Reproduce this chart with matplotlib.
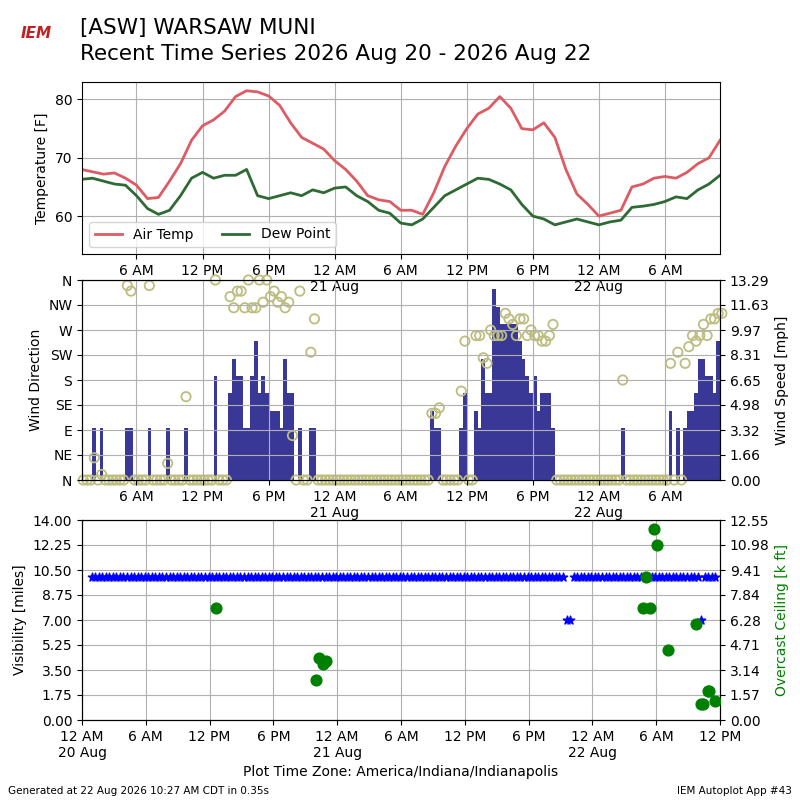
import numpy as np
import matplotlib
matplotlib.use("Agg")
import matplotlib.pyplot as plt

# hourly temperatures, hours since 12 AM 20 Aug (h1 .. h59)
temp_hours = list(range(1, 60))
air_temp = [68.0, 67.6, 67.2, 67.4, 66.5, 65.3, 63.0, 63.2, 66.0, 69.0,
            73.0, 75.5, 76.5, 78.0, 80.5, 81.5, 81.3, 80.6, 79.0, 76.0,
            73.5, 72.5, 71.5, 69.5, 68.0, 66.0, 63.5, 62.8, 62.5, 61.0,
            61.0, 60.3, 64.0, 68.5, 72.0, 75.0, 77.5, 78.5, 80.5, 78.5,
            75.0, 74.8, 76.0, 73.5, 68.0, 63.8, 62.0, 60.0, 60.5, 61.0,
            65.0, 65.5, 66.5, 66.8, 66.5, 67.5, 69.0, 70.0, 73.0]
dew_point = [66.3, 66.5, 66.0, 65.5, 65.3, 63.5, 61.3, 60.3, 61.0, 63.5,
             66.5, 67.5, 66.5, 67.0, 67.0, 68.0, 63.5, 63.0, 63.5, 64.0,
             63.5, 64.5, 64.0, 64.8, 65.0, 63.5, 62.5, 61.0, 60.5, 58.8,
             58.5, 59.5, 61.5, 63.5, 64.5, 65.5, 66.5, 66.3, 65.5, 64.5,
             62.0, 60.0, 59.5, 58.5, 59.0, 59.5, 59.0, 58.5, 59.0, 59.3,
             61.5, 61.7, 62.0, 62.5, 63.3, 63.0, 64.5, 65.5, 67.0]

# wind obs every 20 minutes from h1; index -> knots / direction (others calm)
n_wind = 175
wind_kt = {3: 3, 5: 3, 12: 3, 13: 3, 18: 3, 23: 3, 28: 3, 36: 6, 40: 5, 41: 7,
           42: 6, 43: 6, 44: 3, 45: 3, 46: 6, 47: 8, 48: 5, 49: 6, 50: 5,
           51: 4, 52: 4, 53: 4, 54: 3, 55: 7, 56: 5, 57: 5, 59: 3, 62: 3, 63: 3,
           95: 4, 96: 3, 97: 3, 103: 3, 104: 5, 107: 4, 108: 3, 109: 7, 110: 5,
           111: 5, 112: 11, 113: 10, 114: 9, 115: 9, 116: 9, 117: 9, 118: 9,
           119: 8, 120: 7, 121: 6, 122: 5, 123: 6, 124: 4, 125: 5, 126: 5,
           127: 5, 128: 3, 147: 3, 160: 4, 162: 3, 164: 3, 165: 4, 166: 4,
           167: 5, 168: 7, 169: 7, 170: 6, 171: 6, 172: 5, 173: 8, 174: 7}
wind_dir = {3: 40, 5: 10, 12: 350, 13: 340, 18: 350, 23: 30, 28: 150, 36: 360,
            40: 330, 41: 310, 42: 340, 43: 340, 44: 310, 45: 360, 46: 310,
            47: 310, 48: 360, 49: 320, 50: 360, 51: 330, 52: 340, 53: 320,
            54: 330, 55: 310, 56: 320, 57: 80, 59: 340, 62: 230, 63: 290,
            95: 120, 96: 120, 97: 130, 103: 160, 104: 250, 107: 260, 108: 260,
            109: 220, 110: 210, 111: 270, 112: 260, 113: 260, 114: 260,
            115: 300, 116: 290, 117: 280, 118: 260, 119: 290, 120: 290,
            121: 260, 122: 270, 123: 260, 124: 260, 125: 250, 126: 250,
            127: 260, 128: 280, 147: 180, 160: 210, 162: 230, 164: 210,
            165: 240, 166: 260, 167: 250, 168: 260, 169: 280, 170: 260,
            171: 290, 172: 290, 173: 300, 174: 300}

# visibility obs every 20 minutes from h0.9, dips to 7 miles
vis_low = {134: 7.0, 135: 7.0, 172: 7.0}
n_vis = 177
# overcast ceiling [k ft]
ceil_hours = [12.6, 22.0, 22.3, 22.7, 22.95, 52.8, 53.0, 53.4, 53.8, 54.1,
              55.1, 57.7, 58.2, 58.4, 58.9, 59.0, 59.5]
ceil_kft = [7.0, 2.49, 3.87, 3.5, 3.68, 7.0, 8.95, 7.0, 11.96, 10.96,
            4.37, 6.0, 0.98, 0.98, 1.8, 1.8, 1.17]


def hour_labels(hours):
    labs = []
    for h in hours:
        hh = h % 24
        if hh == 0:
            labs.append("12 AM\n%d Aug" % (20 + h // 24))
        elif hh == 12:
            labs.append("12 PM")
        elif hh < 12:
            labs.append("%d AM" % hh)
        else:
            labs.append("%d PM" % (hh - 12))
    return labs


def fmt2(vals):
    return ["%.2f" % (np.floor(v * 100 + 0.5) / 100) for v in vals]


fig = plt.figure(figsize=(8, 8), dpi=100)
fig.text(0.1, 0.965, "[ASW] WARSAW MUNI", fontsize=15.5, va="center")
fig.text(0.1, 0.932, "Recent Time Series 2026 Aug 20 - 2026 Aug 22",
         fontsize=15.5, va="center")
fig.text(0.045, 0.958, "IEM", fontsize=11, color="#c02020", ha="center",
         va="center", style="italic", fontweight="bold")
fig.text(0.01, 0.007, "Generated at 22 Aug 2026 10:27 AM CDT in 0.35s", fontsize=7.5)
fig.text(0.99, 0.007, "IEM Autoplot App #43", fontsize=7.5, ha="right")

# temperature
ax1 = fig.add_axes([0.1025, 0.6825, 0.7975, 0.215])
ax1.plot(temp_hours, air_temp, color="#dd5c64", lw=2, label="Air Temp")
ax1.plot(temp_hours, dew_point, color="#2e6a34", lw=2, label="Dew Point")
ax1.set_xlim(1.05, 59.0)
ax1.set_ylim(53.5, 83)
ax1.set_yticks([60, 70, 80])
ticks = list(range(6, 59, 6))
ax1.set_xticks(ticks)
ax1.set_xticklabels(hour_labels(ticks))
ax1.set_ylabel("Temperature [F]")
ax1.grid(True)
ax1.legend(loc="lower left", ncol=2)

# wind
t_wind = np.array([1.0 + i / 3.0 for i in range(n_wind)])
kt = np.array([wind_kt.get(i, 0) for i in range(n_wind)], dtype=float)
dr = np.array([wind_dir.get(i, 0) for i in range(n_wind)], dtype=float)
mph = kt * 1.1508
ax2 = fig.add_axes([0.1025, 0.4, 0.7975, 0.25])
ax2b = ax2.twinx()
ax2b.bar(t_wind, mph, width=1 / 3.0, align="edge", color="#3a3897")
ax2b.set_ylim(0, 13.29)
ax2b.set_yticks(np.linspace(0, 13.29, 9))
ax2b.set_yticklabels(fmt2(np.linspace(0, 13.29, 9)))
ax2b.set_ylabel("Wind Speed [mph]")
ax2.set_zorder(ax2b.get_zorder() + 1)
ax2.patch.set_visible(False)
ax2.scatter(t_wind + 1 / 6.0, dr, s=45, facecolors="none", edgecolors="#bdbd80",
            linewidths=1.3, clip_on=False)
ax2.set_ylim(0, 360)
ax2.set_yticks(range(0, 361, 45))
ax2.set_yticklabels(["N", "NE", "E", "SE", "S", "SW", "W", "NW", "N"])
ax2.set_ylabel("Wind Direction")
ax2.set_xlim(1.05, 59.0)
ax2.set_xticks(ticks)
ax2.set_xticklabels(hour_labels(ticks))
ax2.grid(True)

# visibility / ceiling
t_vis = np.array([0.9 + i / 3.0 for i in range(n_vis)])
vis = np.array([vis_low.get(i, 10.0) for i in range(n_vis)])
ax3 = fig.add_axes([0.1025, 0.1, 0.7975, 0.25])
ax3.scatter(t_vis, vis, marker="*", color="blue", s=40, zorder=3)
ax3.set_ylim(0, 14)
ax3.set_yticks(np.arange(0, 14.01, 1.75))
ax3.set_yticklabels(fmt2(np.arange(0, 14.01, 1.75)))
ax3.set_ylabel("Visibility [miles]")
ticks3 = list(range(0, 61, 6))
ax3.set_xlim(0, 60)
ax3.set_xticks(ticks3)
ax3.set_xticklabels(hour_labels(ticks3))
ax3.set_xlabel("Plot Time Zone: America/Indiana/Indianapolis")
ax3.grid(True)
ax3b = ax3.twinx()
ax3b.scatter(ceil_hours, ceil_kft, color="green", s=60, zorder=3)
ax3b.set_ylim(0, 12.55)
ax3b.set_yticks(np.linspace(0, 12.55, 9))
ax3b.set_yticklabels(fmt2(np.linspace(0, 12.55, 9)))
ax3b.set_ylabel("Overcast Ceiling [k ft]", color="green")

fig.savefig("out.png")
